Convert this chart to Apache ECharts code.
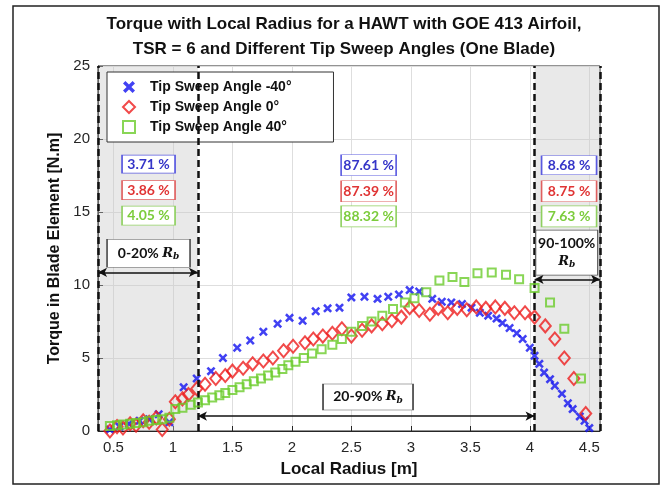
<!DOCTYPE html>
<html>
<head>
<meta charset="utf-8">
<title>Torque with Local Radius</title>
<script src="https://cdn.jsdelivr.net/npm/echarts@6/dist/echarts.min.js"></script>
<style>
    html, body { margin: 0; padding: 0; background: #fff; }
    #main { width: 667px; height: 486px; }
</style>
</head>
<body>
<div id="main"></div>
<script>
    // data: local radius [m] and torque [N.m]
    const blueR = [0.47,0.55,0.63,0.72,0.80,0.88,0.97,1.09,1.20,1.32,1.42,1.54,1.65,1.76,1.88,1.98,2.09,2.20,2.30,2.40,2.50,2.61,2.72,2.81,2.90,2.99,3.07,3.18,3.26,3.34,3.43,3.51,3.58,3.65,3.72,3.77,3.83,3.89,3.94,4.00,4.04,4.08,4.12,4.17,4.21,4.27,4.32,4.36,4.42,4.46,4.50]
    const blueT = [0.1,0.3,0.5,0.7,0.8,1.15,0.6,3.0,3.6,4.1,5.0,5.7,6.2,6.8,7.35,7.75,7.55,8.2,8.4,8.45,9.15,9.2,9.05,9.2,9.35,9.65,9.55,9.05,8.85,8.8,8.7,8.45,8.1,7.9,7.7,7.4,7.05,6.7,6.3,5.7,5.15,4.6,4.0,3.55,3.1,2.55,1.9,1.5,1.0,0.7,0.2]

    const redR = [0.47,0.53,0.58,0.64,0.69,0.75,0.80,0.86,0.91,0.97,1.02,1.08,1.13,1.20,1.27,1.36,1.44,1.50,1.59,1.67,1.76,1.84,1.93,2.01,2.11,2.18,2.26,2.34,2.42,2.50,2.59,2.67,2.76,2.84,2.92,2.99,3.07,3.16,3.23,3.31,3.39,3.47,3.55,3.63,3.71,3.79,3.87,3.96,4.04,4.13,4.21,4.29,4.37,4.47]
    const redT = [0.0,0.3,0.2,0.5,0.4,0.7,0.6,0.9,0.1,0.8,2.0,2.2,2.5,2.9,3.2,3.6,3.8,4.1,4.3,4.6,4.8,5.0,5.5,5.8,6.05,6.3,6.5,6.7,7.0,6.5,6.9,7.2,7.35,7.55,7.8,8.45,8.25,8.0,8.4,8.1,8.4,8.3,8.5,8.4,8.5,8.4,8.1,8.1,7.8,7.2,6.3,5.0,3.6,1.2]

    const greenR = [0.47,0.53,0.58,0.64,0.69,0.75,0.80,0.86,0.91,0.97,1.02,1.08,1.15,1.21,1.27,1.33,1.39,1.44,1.50,1.56,1.62,1.68,1.74,1.80,1.86,1.92,1.97,2.03,2.10,2.17,2.25,2.34,2.42,2.50,2.59,2.67,2.76,2.85,2.95,3.03,3.13,3.24,3.35,3.45,3.56,3.68,3.80,3.91,4.04,4.17,4.29,4.43]
    const greenT = [0.35,0.4,0.45,0.5,0.55,0.6,0.7,0.75,0.8,0.9,1.5,1.6,1.8,1.95,2.1,2.3,2.45,2.6,2.8,3.0,3.2,3.4,3.6,3.8,4.0,4.25,4.5,4.75,5.0,5.3,5.6,5.9,6.3,6.8,7.2,7.5,7.9,8.35,8.8,9.1,9.5,10.3,10.55,10.2,10.8,10.85,10.7,10.4,9.8,8.8,7.0,3.6]

    const seriesNames = ['Tip Sweep Angle -40°', 'Tip Sweep Angle 0°', 'Tip Sweep Angle 40°']
    const xTicks = [0.5, 1, 1.5, 2, 2.5, 3, 3.5, 4, 4.5]
    const zoneEdges = [0.37, 1.21, 4.04, 4.59]
    const shareRoot = ['3.71 %', '3.86 %', '4.05 %']
    const shareMid = ['87.61 %', '87.39 %', '88.32 %']
    const shareTip = ['8.68 %', '8.75 %', '7.63 %']
    const zoneLabels = ['0-20% ', '20-90% ', '90-100%']

    let colorBlue = '#1212f0'
    let colorRed = '#ee1d1d'
    let colorGreen = '#6ccc2c'
    let textBlue = '#3535c8'
    let textRed = '#e03434'
    let textGreen = '#7ccc3c'
    let fontMain = '"Liberation Sans", Arial, sans-serif'
    let fontBox = 'Lato, "Open Sans", sans-serif'

    const pts = (r, t) => r.map((v, i) => [v, t[i]])

    const pctBox = (x, y, txt, col, border, w, h) => ({
        coord: [x, y],
        symbolSize: [w, h],
        itemStyle: { color: '#fff', borderColor: border, borderWidth: 1 },
        label: { formatter: txt, color: col }
    })

    const zoneBox = (x, y, txt, w, h) => ({
        coord: [x, y],
        symbolSize: [w, h],
        itemStyle: { color: '#fff', borderColor: '#555', borderWidth: 1 },
        label: { formatter: txt }
    })

    const rRich = {
        t: { fontFamily: fontBox, fontWeight: 'bold', fontSize: 14, color: '#111', lineHeight: 18 },
        r: { fontFamily: '"DejaVu Serif", serif', fontStyle: 'italic', fontWeight: 'bold', fontSize: 13, color: '#111', lineHeight: 18 },
        s: { fontFamily: '"DejaVu Serif", serif', fontStyle: 'italic', fontWeight: 'bold', fontSize: 9, color: '#111', padding: [7, 0, 0, 0] }
    }

    let chart = echarts.init(document.getElementById('main'), null, { renderer: 'canvas' })

    chart.setOption({
        animation: false,
        backgroundColor: '#fff',
        title: {
            text: 'Torque with Local Radius for a HAWT with GOE 413 Airfoil,\nTSR = 6 and Different Tip Sweep Angles (One Blade)',
            left: 339,
            top: 7,
            textAlign: 'center',
            textStyle: { fontFamily: fontMain, fontSize: 17, fontWeight: 'bold', color: '#111', lineHeight: 25 }
        },
        graphic: [
            {
                type: 'rect',
                shape: { x: 13, y: 6, width: 646, height: 478 },
                style: { fill: 'none', stroke: '#222', lineWidth: 1.5 },
                silent: true
            }
        ],
        legend: {
            data: seriesNames,
            orient: 'vertical',
            left: 107,
            top: 72,
            padding: [8, 42, 8, 15],
            itemWidth: 12,
            itemHeight: 12,
            itemGap: 6,
            backgroundColor: '#fff',
            borderColor: '#333',
            borderWidth: 1,
            textStyle: { fontFamily: fontMain, fontSize: 14, fontWeight: 'bold', color: '#111', padding: [0, 0, 0, 10] }
        },
        grid: {
            left: 98, right: 67, top: 66, bottom: 55,
            show: true,
            borderColor: '#262626',
            borderWidth: 1,
            backgroundColor: '#fff'
        },
        xAxis: {
            type: 'value',
            min: zoneEdges[0],
            max: zoneEdges[3],
            name: 'Local Radius [m]',
            nameLocation: 'middle',
            nameGap: 30,
            nameTextStyle: { fontFamily: fontMain, fontSize: 17, fontWeight: 'bold', color: '#111' },
            axisLine: { lineStyle: { color: '#262626' } },
            axisTick: { inside: true, length: 5, customValues: xTicks, lineStyle: { color: '#262626' } },
            axisLabel: { customValues: xTicks, fontFamily: fontMain, fontSize: 15, color: '#262626', margin: 9 },
            splitLine: { show: true, lineStyle: { color: '#dedede' } }
        },
        yAxis: {
            type: 'value',
            min: 0,
            max: 25,
            interval: 5,
            name: 'Torque in Blade Element [N.m]',
            nameLocation: 'middle',
            nameGap: 30,
            nameTextStyle: { fontFamily: fontMain, fontSize: 16, fontWeight: 'bold', color: '#111' },
            axisLine: { show: true, lineStyle: { color: '#262626' } },
            axisTick: { show: true, inside: true, length: 5, lineStyle: { color: '#262626' } },
            axisLabel: { fontFamily: fontMain, fontSize: 15, color: '#262626', margin: 8 },
            splitLine: { show: true, lineStyle: { color: '#dedede' } }
        },
        series: [
            {
                name: 'zones',
                type: 'scatter',
                data: [],
                silent: true,
                markArea: {
                    silent: true,
                    itemStyle: { color: 'rgba(200,200,200,0.4)' },
                    data: [
                        [{ xAxis: zoneEdges[0] }, { xAxis: zoneEdges[1] }],
                        [{ xAxis: zoneEdges[2] }, { xAxis: zoneEdges[3] }]
                    ]
                }
            },
            {
                name: seriesNames[0],
                type: 'scatter',
                z: 3,
                data: pts(blueR, blueT),
                symbol: 'path://M2,0L5,3L8,0L10,2L7,5L10,8L8,10L5,7L2,10L0,8L3,5L0,2Z',
                symbolSize: 9,
                itemStyle: { color: colorBlue }
            },
            {
                name: seriesNames[1],
                type: 'scatter',
                z: 4,
                data: pts(redR, redT),
                symbol: 'diamond',
                symbolSize: [11, 13],
                itemStyle: { color: 'rgba(0,0,0,0)', borderColor: colorRed, borderWidth: 2 }
            },
            {
                name: seriesNames[2],
                type: 'scatter',
                z: 5,
                data: pts(greenR, greenT),
                symbol: 'rect',
                symbolSize: 8,
                itemStyle: { color: 'rgba(0,0,0,0)', borderColor: colorGreen, borderWidth: 2 }
            },
            {
                name: 'notes',
                type: 'scatter',
                data: [],
                silent: true,
                z: 6,
                markLine: {
                    silent: true,
                    animation: false,
                    label: { show: false },
                    symbol: ['none', 'none'],
                    data: [
                        { xAxis: zoneEdges[0], lineStyle: { color: '#111', width: 2.5, type: [7, 4] } },
                        { xAxis: zoneEdges[1], lineStyle: { color: '#111', width: 2.5, type: [7, 4] } },
                        { xAxis: zoneEdges[2], lineStyle: { color: '#111', width: 2.5, type: [7, 4] } },
                        { xAxis: zoneEdges[3], lineStyle: { color: '#111', width: 2.5, type: [7, 4] } },
                        [
                            { coord: [zoneEdges[0], 10.87], symbol: 'arrow', symbolSize: [7, 9] },
                            { coord: [zoneEdges[1], 10.87], symbol: 'arrow', symbolSize: [7, 9], lineStyle: { color: '#111', width: 1.5, type: 'solid' } }
                        ],
                        [
                            { coord: [zoneEdges[1], 1.02], symbol: 'arrow', symbolSize: [7, 9] },
                            { coord: [zoneEdges[2], 1.02], symbol: 'arrow', symbolSize: [7, 9], lineStyle: { color: '#111', width: 1.5, type: 'solid' } }
                        ],
                        [
                            { coord: [zoneEdges[2], 10.39], symbol: 'arrow', symbolSize: [7, 9] },
                            { coord: [zoneEdges[3], 10.39], symbol: 'arrow', symbolSize: [7, 9], lineStyle: { color: '#111', width: 1.5, type: 'solid' } }
                        ]
                    ]
                },
                markPoint: {
                    silent: true,
                    symbol: 'rect',
                    label: {
                        show: true,
                        position: 'inside',
                        fontFamily: fontBox,
                        fontWeight: 'bold',
                        fontSize: 14,
                        rich: rRich
                    },
                    data: [
                        pctBox(0.795, 18.28, shareRoot[0], textBlue, '#5a5ae0', 53, 18),
                        pctBox(0.795, 16.50, shareRoot[1], textRed, '#e06060', 53, 19),
                        pctBox(0.795, 14.75, shareRoot[2], textGreen, '#8fd060', 53, 19),
                        pctBox(2.645, 18.20, shareMid[0], textBlue, '#5a5ae0', 55, 21),
                        pctBox(2.645, 16.42, shareMid[1], textRed, '#e06060', 55, 21),
                        pctBox(2.645, 14.70, shareMid[2], textGreen, '#8fd060', 55, 21),
                        pctBox(4.33, 18.20, shareTip[0], textBlue, '#5a5ae0', 55, 19),
                        pctBox(4.33, 16.42, shareTip[1], textRed, '#e06060', 55, 21),
                        pctBox(4.33, 14.70, shareTip[2], textGreen, '#8fd060', 55, 21),
                        zoneBox(0.795, 12.17, '{t|' + zoneLabels[0] + '}{r|R}{s|b}', 83, 28),
                        zoneBox(2.64, 2.33, '{t|' + zoneLabels[1] + '}{r|R}{s|b}', 90, 26),
                        zoneBox(4.31, 12.22, '{t|' + zoneLabels[2] + '}\n{r|R}{s|b}', 62, 45)
                    ]
                }
            }
        ]
    })
</script>
</body>
</html>
